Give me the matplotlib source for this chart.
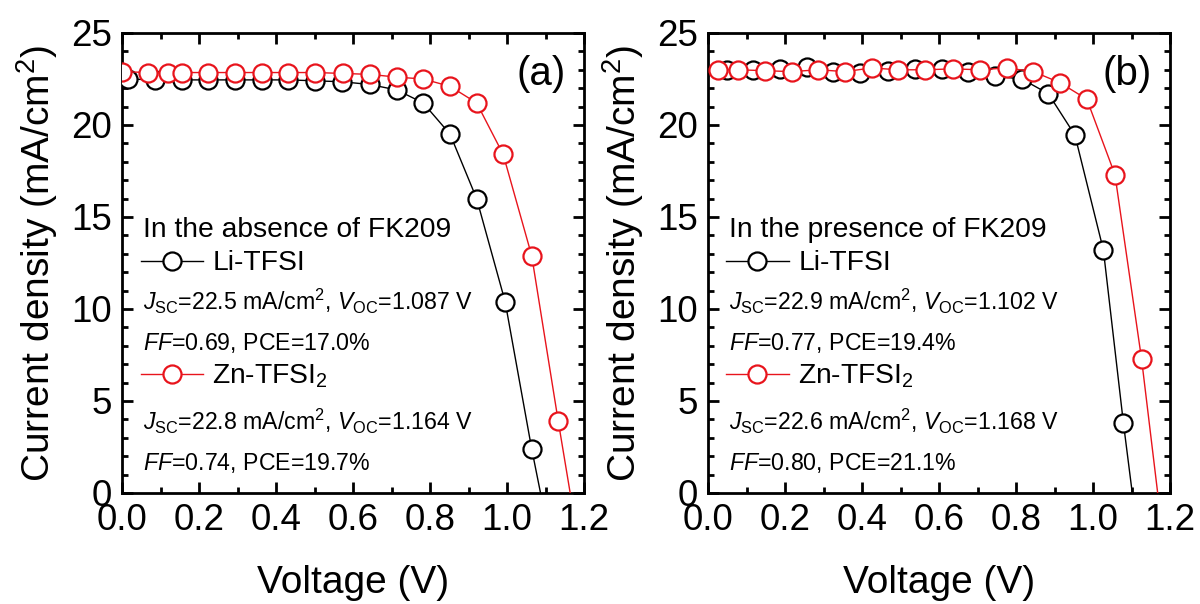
import matplotlib
matplotlib.use("Agg")
import matplotlib.pyplot as plt
from matplotlib.lines import Line2D
from matplotlib.ticker import MultipleLocator

plt.rcParams['font.family'] = ['Liberation Sans', 'DejaVu Sans']
plt.rcParams['mathtext.fontset'] = 'custom'
plt.rcParams['mathtext.rm'] = 'Liberation Sans'
plt.rcParams['mathtext.it'] = 'Liberation Sans:italic'
plt.rcParams['mathtext.bf'] = 'Liberation Sans:bold'

# data
# (a) no FK209
v_li_a = [0.016, 0.086, 0.155, 0.224, 0.294, 0.363, 0.432, 0.502, 0.571, 0.644, 0.714, 0.782, 0.852, 0.921, 0.995, 1.064]
j_li_a = [22.5, 22.45, 22.45, 22.45, 22.45, 22.45, 22.45, 22.4, 22.35, 22.2, 21.9, 21.2, 19.5, 16.0, 10.4, 2.4]
voc_li_a = 1.087
v_zn_a = [0.0, 0.068, 0.12, 0.155, 0.224, 0.294, 0.363, 0.432, 0.502, 0.575, 0.644, 0.714, 0.782, 0.852, 0.921, 0.990, 1.064, 1.133]
j_zn_a = [22.9, 22.85, 22.85, 22.85, 22.85, 22.85, 22.85, 22.85, 22.85, 22.8, 22.75, 22.6, 22.5, 22.1, 21.2, 18.4, 12.9, 3.9]
voc_zn_a = 1.164

# (b) with FK209
v_li_b = [0.0485, 0.118, 0.187, 0.256, 0.325, 0.395, 0.468, 0.538, 0.607, 0.676, 0.745, 0.815, 0.884, 0.953, 1.027, 1.079]
j_li_b = [23.0, 23.0, 23.05, 23.15, 22.9, 22.85, 22.95, 23.05, 23.05, 22.9, 22.65, 22.5, 21.7, 19.45, 13.2, 3.8]
voc_li_b = 1.102
v_zn_b = [0.027, 0.079, 0.148, 0.217, 0.287, 0.356, 0.425, 0.494, 0.564, 0.637, 0.706, 0.776, 0.845, 0.914, 0.984, 1.057, 1.126]
j_zn_b = [23.0, 23.0, 22.95, 22.9, 23.0, 22.9, 23.1, 23.0, 23.0, 23.05, 23.0, 23.1, 22.9, 22.3, 21.4, 17.3, 7.3]
voc_zn_b = 1.168

panel_tags = ['(a)', '(b)']
conditions = ['In the absence of FK209', 'In the presence of FK209']
li_text = [(r'$J_{\rm SC}$=22.5 mA/cm$^2$, $V_{\rm OC}$=1.087 V', r'$FF$=0.69, PCE=17.0%'),
           (r'$J_{\rm SC}$=22.9 mA/cm$^2$, $V_{\rm OC}$=1.102 V', r'$FF$=0.77, PCE=19.4%')]
zn_text = [(r'$J_{\rm SC}$=22.8 mA/cm$^2$, $V_{\rm OC}$=1.164 V', r'$FF$=0.74, PCE=19.7%'),
           (r'$J_{\rm SC}$=22.6 mA/cm$^2$, $V_{\rm OC}$=1.168 V', r'$FF$=0.80, PCE=21.1%')]

RED = '#e8141c'
MS = 13

fig = plt.figure(figsize=(12, 6.04), dpi=100)
ax_a = fig.add_axes([0.1017, 0.1838, 0.385, 0.7616])
ax_b = fig.add_axes([0.59, 0.1838, 0.385, 0.7616])

sets = [(ax_a, v_li_a, j_li_a, voc_li_a, v_zn_a, j_zn_a, voc_zn_a),
        (ax_b, v_li_b, j_li_b, voc_li_b, v_zn_b, j_zn_b, voc_zn_b)]

for i, (ax, vl, jl, vocl, vz, jz, vocz) in enumerate(sets):
    # curves run on to J=0 at Voc
    ax.plot(vl + [vocl], jl + [0.0], color='black', lw=1.0, zorder=2)
    ax.plot(vl, jl, ls='none', marker='o', ms=MS, mec='black', mfc='white', mew=1.6, zorder=3)
    ax.plot(vz + [vocz], jz + [0.0], color=RED, lw=1.0, zorder=4)
    ax.plot(vz, jz, ls='none', marker='o', ms=MS, mec=RED, mfc='white', mew=1.6, zorder=5)

    ax.set_xlim(0, 1.2)
    ax.set_ylim(0, 25)
    ax.xaxis.set_major_locator(MultipleLocator(0.2))
    ax.xaxis.set_minor_locator(MultipleLocator(0.1))
    ax.yaxis.set_major_locator(MultipleLocator(5))
    ax.yaxis.set_minor_locator(MultipleLocator(1))
    ax.tick_params(which='both', direction='in', top=True, right=True, width=2, labelsize=26.5)
    ax.tick_params(which='major', length=8)
    ax.tick_params(which='minor', length=4)
    ax.tick_params(axis='x', pad=7)
    ax.tick_params(axis='y', pad=7)
    for s in ax.spines.values():
        s.set_linewidth(2)

    ax.set_xlabel('Voltage (V)', fontsize=28, labelpad=20)
    ax.set_ylabel('Current density (mA/cm$^2$)', fontsize=28, labelpad=8)

    ax.text(0.96, 0.887, panel_tags[i], transform=ax.transAxes, ha='right', va='baseline', fontsize=29)

    x0 = 0.045
    ax.text(x0, 0.557, conditions[i], transform=ax.transAxes, ha='left', va='baseline', fontsize=20.3)
    ax.text(x0, 0.398, li_text[i][0], transform=ax.transAxes, ha='left', va='baseline', fontsize=16.7)
    ax.text(x0, 0.311, li_text[i][1], transform=ax.transAxes, ha='left', va='baseline', fontsize=16.7)
    ax.text(x0, 0.137, zn_text[i][0], transform=ax.transAxes, ha='left', va='baseline', fontsize=16.7)
    ax.text(x0, 0.05, zn_text[i][1], transform=ax.transAxes, ha='left', va='baseline', fontsize=16.7)

    h_li = Line2D([], [], color='black', lw=1.0, marker='o', ms=MS, mec='black', mfc='white', mew=1.6)
    h_zn = Line2D([], [], color=RED, lw=1.0, marker='o', ms=MS, mec=RED, mfc='white', mew=1.6)
    leg1 = ax.legend([h_li], ['Li-TFSI'], loc='center left', bbox_to_anchor=(x0 - 0.005, 0.499),
                     frameon=False, fontsize=20.3, handlelength=2.2, handletextpad=0.35,
                     borderpad=0, borderaxespad=0)
    ax.add_artist(leg1)
    ax.legend([h_zn], ['Zn-TFSI$_2$'], loc='center left', bbox_to_anchor=(x0 - 0.005, 0.253),
              frameon=False, fontsize=20.3, handlelength=2.2, handletextpad=0.35,
              borderpad=0, borderaxespad=0)

fig.savefig('out.png', dpi=100)
